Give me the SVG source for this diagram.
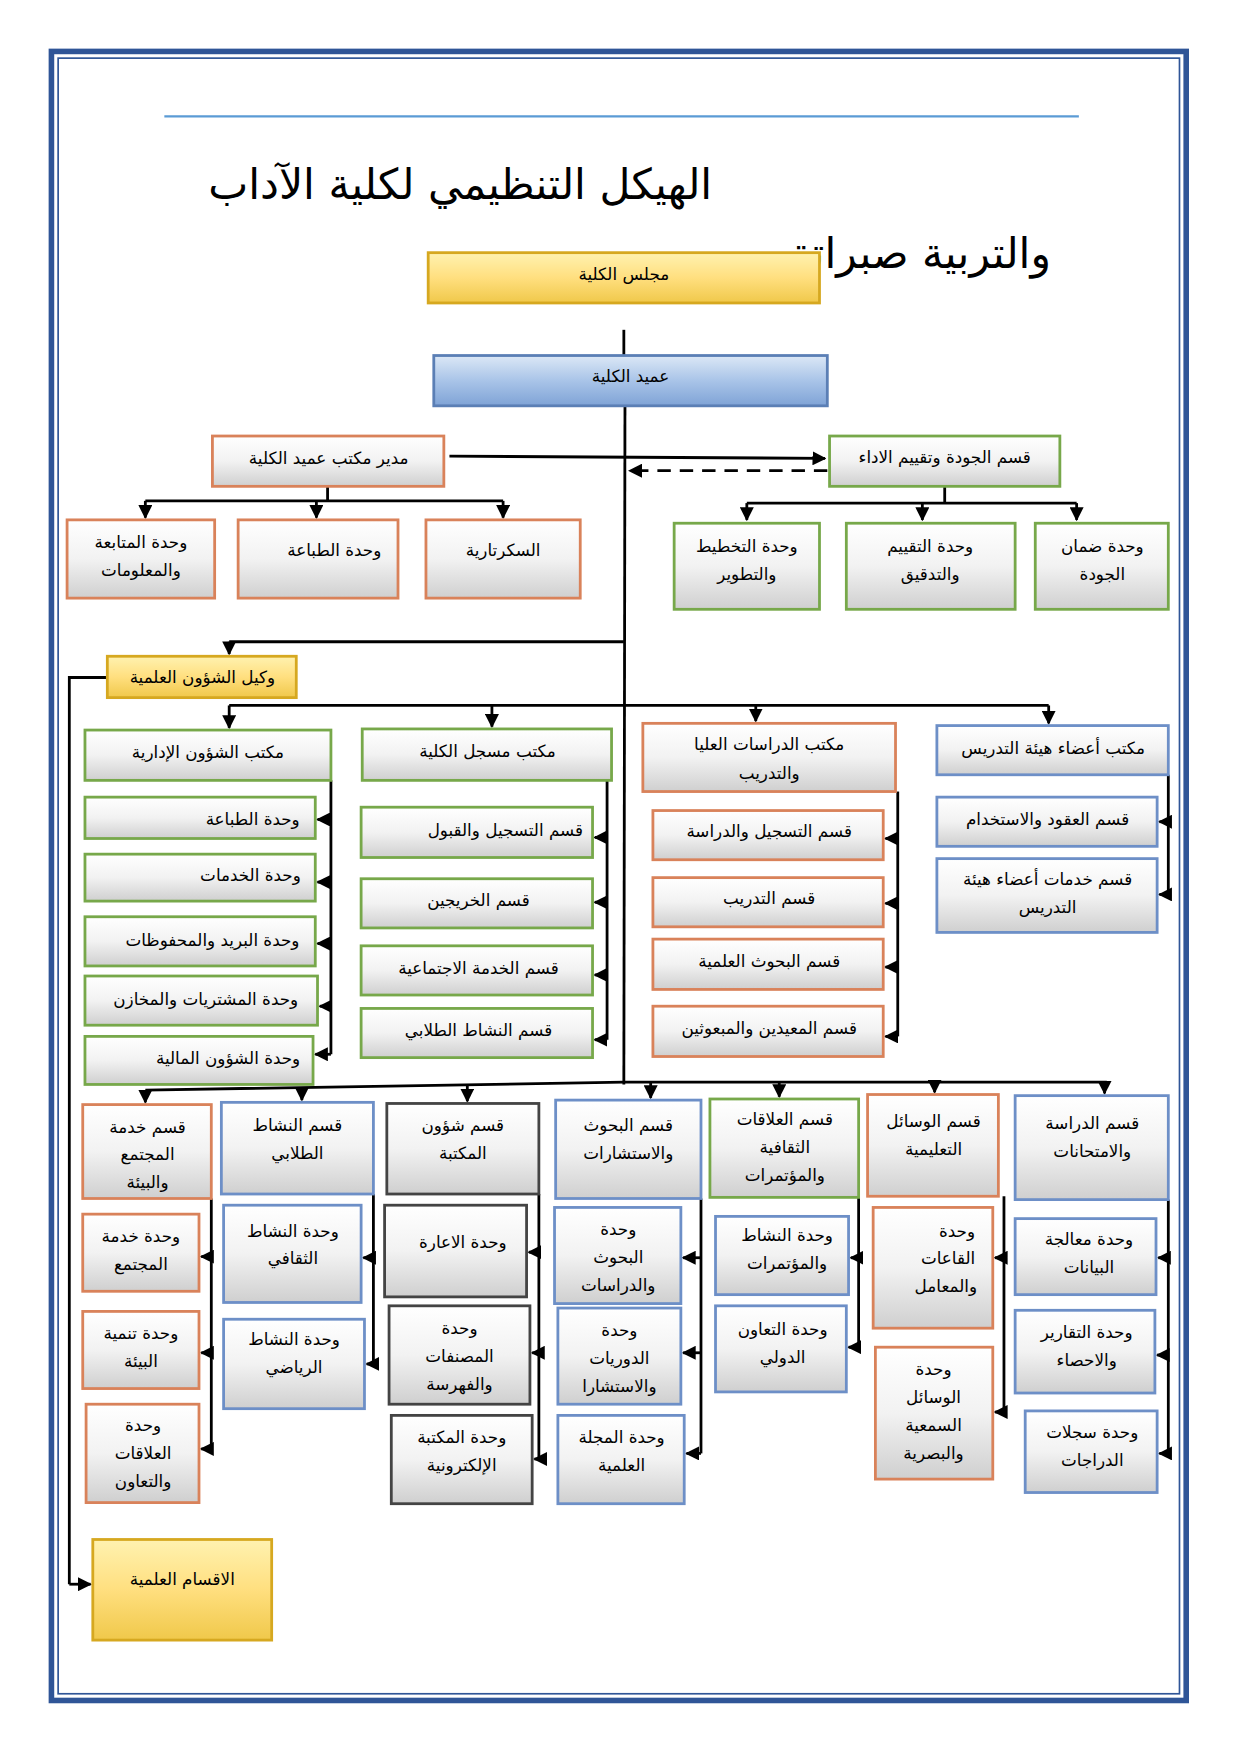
<svg xmlns="http://www.w3.org/2000/svg" width="1241" height="1755" viewBox="0 0 1241 1755">
<defs>
<linearGradient id="gr" x1="0" y1="0" x2="0" y2="1"><stop offset="0" stop-color="#ffffff"/><stop offset="0.5" stop-color="#f2f2f2"/><stop offset="1" stop-color="#cfcfcf"/></linearGradient>
<linearGradient id="yl" x1="0" y1="0" x2="0" y2="1"><stop offset="0" stop-color="#fff2b0"/><stop offset="0.5" stop-color="#ffdf7f"/><stop offset="1" stop-color="#f0c84a"/></linearGradient>
<linearGradient id="bl" x1="0" y1="0" x2="0" y2="1"><stop offset="0" stop-color="#dce8f6"/><stop offset="0.5" stop-color="#a9c4e8"/><stop offset="1" stop-color="#7fa3d6"/></linearGradient>
<marker id="ar" viewBox="0 0 10 10" refX="9" refY="5" markerWidth="5" markerHeight="5" orient="auto"><path d="M0,0L10,5L0,10z" fill="#000"/></marker>
<style>
text{font-family:"DejaVu Sans","Noto Sans",sans-serif;font-size:15px;text-anchor:middle;fill:#000}
.b{fill:url(#gr);stroke-width:2.5}
.o{stroke:#d9825a}.g{stroke:#77a84a}.u{stroke:#6d8fc7}.k{stroke:#444}
.y{fill:url(#yl);stroke:#d6a820;stroke-width:2.5}
.c line,.c path{stroke:#000;stroke-width:2.5;fill:none}
</style>
</defs>
<g transform="scale(1.118)">
<rect x="46" y="46" width="1015" height="1475" fill="none" stroke="#2f5597" stroke-width="5"/>
<rect x="52" y="52" width="1003" height="1463" fill="none" stroke="#2f5597" stroke-width="1.5"/>
<line x1="147" y1="104" x2="965" y2="104" stroke="#5b9bd5" stroke-width="2"/>
<text x="637" y="178" style="font-size:38px;text-anchor:end">الهيكل التنظيمي لكلية الآداب</text>
<text x="940" y="240" style="font-size:38px;text-anchor:end">والتربية صبراتة</text>

<g class="c">
<line x1="558" y1="295" x2="558" y2="318"/>
<line x1="559" y1="363" x2="558" y2="970"/>
<line x1="402" y1="408" x2="738" y2="410" marker-end="url(#ar)"/>
<line x1="740" y1="421" x2="563" y2="421" stroke-dasharray="12,8" marker-end="url(#ar)"/>
<path d="M293,435V448M130,448H450"/>
<line x1="130" y1="448" x2="130" y2="463" marker-end="url(#ar)"/>
<line x1="283" y1="448" x2="283" y2="463" marker-end="url(#ar)"/>
<line x1="450" y1="448" x2="450" y2="463" marker-end="url(#ar)"/>
<path d="M845,435V450M668,450H963"/>
<line x1="668" y1="450" x2="668" y2="465" marker-end="url(#ar)"/>
<line x1="825" y1="450" x2="825" y2="465" marker-end="url(#ar)"/>
<line x1="963" y1="450" x2="963" y2="465" marker-end="url(#ar)"/>
<path d="M205,574H558"/>
<line x1="205" y1="574" x2="205" y2="585" marker-end="url(#ar)"/>
<path d="M96,606H62V1417"/>
<line x1="62" y1="1417" x2="81" y2="1417" marker-end="url(#ar)"/>
<path d="M205,631H938"/>
<line x1="205" y1="631" x2="205" y2="651" marker-end="url(#ar)"/>
<line x1="440" y1="631" x2="440" y2="650" marker-end="url(#ar)"/>
<line x1="676" y1="631" x2="676" y2="645" marker-end="url(#ar)"/>
<line x1="938" y1="631" x2="938" y2="647" marker-end="url(#ar)"/>
<path d="M296,698V943"/>
<line x1="296" y1="733" x2="284" y2="733" marker-end="url(#ar)"/>
<line x1="296" y1="789" x2="284" y2="789" marker-end="url(#ar)"/>
<line x1="296" y1="844" x2="284" y2="844" marker-end="url(#ar)"/>
<line x1="296" y1="900" x2="286" y2="900" marker-end="url(#ar)"/>
<line x1="296" y1="943" x2="282" y2="943" marker-end="url(#ar)"/>
<path d="M543,698V930"/>
<line x1="543" y1="749" x2="532" y2="749" marker-end="url(#ar)"/>
<line x1="543" y1="807" x2="532" y2="807" marker-end="url(#ar)"/>
<line x1="543" y1="872" x2="532" y2="872" marker-end="url(#ar)"/>
<line x1="543" y1="930" x2="532" y2="930" marker-end="url(#ar)"/>
<path d="M803,708V927"/>
<line x1="803" y1="750" x2="792" y2="750" marker-end="url(#ar)"/>
<line x1="803" y1="808" x2="792" y2="808" marker-end="url(#ar)"/>
<line x1="803" y1="865" x2="792" y2="865" marker-end="url(#ar)"/>
<line x1="803" y1="927" x2="792" y2="927" marker-end="url(#ar)"/>
<path d="M1045,693V800"/>
<line x1="1045" y1="735" x2="1037" y2="735" marker-end="url(#ar)"/>
<line x1="1045" y1="800" x2="1037" y2="800" marker-end="url(#ar)"/>
<path d="M130,975L558,968H990"/>
<line x1="130" y1="975" x2="130" y2="986" marker-end="url(#ar)"/>
<line x1="270" y1="973" x2="270" y2="984" marker-end="url(#ar)"/>
<line x1="418" y1="970" x2="418" y2="985" marker-end="url(#ar)"/>
<line x1="582" y1="968" x2="582" y2="982" marker-end="url(#ar)"/>
<line x1="697" y1="968" x2="697" y2="981" marker-end="url(#ar)"/>
<line x1="836" y1="968" x2="836" y2="977" marker-end="url(#ar)"/>
<line x1="988" y1="968" x2="988" y2="978" marker-end="url(#ar)"/>
<path d="M189,1072V1296"/>
<line x1="189" y1="1124" x2="180" y2="1124" marker-end="url(#ar)"/>
<line x1="189" y1="1210" x2="180" y2="1210" marker-end="url(#ar)"/>
<line x1="189" y1="1296" x2="180" y2="1296" marker-end="url(#ar)"/>
<path d="M334,1068V1220"/>
<line x1="334" y1="1125" x2="325" y2="1125" marker-end="url(#ar)"/>
<line x1="334" y1="1220" x2="328" y2="1220" marker-end="url(#ar)"/>
<path d="M482,1068V1305"/>
<line x1="482" y1="1120" x2="473" y2="1120" marker-end="url(#ar)"/>
<line x1="482" y1="1210" x2="476" y2="1210" marker-end="url(#ar)"/>
<line x1="482" y1="1305" x2="478" y2="1305" marker-end="url(#ar)"/>
<path d="M627,1072V1300"/>
<line x1="627" y1="1125" x2="611" y2="1125" marker-end="url(#ar)"/>
<line x1="627" y1="1210" x2="611" y2="1210" marker-end="url(#ar)"/>
<line x1="627" y1="1300" x2="614" y2="1300" marker-end="url(#ar)"/>
<path d="M768,1071V1205"/>
<line x1="768" y1="1125" x2="761" y2="1125" marker-end="url(#ar)"/>
<line x1="768" y1="1205" x2="759" y2="1205" marker-end="url(#ar)"/>
<path d="M898,1070V1263"/>
<line x1="898" y1="1125" x2="890" y2="1125" marker-end="url(#ar)"/>
<line x1="898" y1="1263" x2="890" y2="1263" marker-end="url(#ar)"/>
<path d="M1045,1073V1300"/>
<line x1="1045" y1="1125" x2="1036" y2="1125" marker-end="url(#ar)"/>
<line x1="1045" y1="1212" x2="1035" y2="1212" marker-end="url(#ar)"/>
<line x1="1045" y1="1300" x2="1037" y2="1300" marker-end="url(#ar)"/>
</g>

<g id="n1"><rect x="383" y="226" width="350" height="45" class="y"/><text x="558" y="250">مجلس الكلية</text></g>
<g id="n2"><rect x="388" y="318" width="352" height="45" fill="url(#bl)" stroke="#5b7fb5" stroke-width="2.5"/><text x="564" y="342">عميد الكلية</text></g>
<g id="n3"><rect x="190" y="390" width="207" height="45" class="b o"/><text x="294" y="415">مدير مكتب عميد الكلية</text></g>
<g id="n4"><rect x="742" y="390" width="206" height="45" class="b g"/><text x="845" y="414">قسم الجودة وتقييم الاداء</text></g>
<g id="n5"><rect x="60" y="465" width="132" height="70" class="b o"/><text x="126" y="490">وحدة المتابعة</text><text x="126" y="515">والمعلومات</text></g>
<g id="n6"><rect x="213" y="465" width="143" height="70" class="b o"/><text x="299" y="497">وحدة الطباعة</text></g>
<g id="n7"><rect x="381" y="465" width="138" height="70" class="b o"/><text x="450" y="497">السكرتارية</text></g>
<g id="n8"><rect x="603" y="468" width="130" height="77" class="b g"/><text x="668" y="494">وحدة التخطيط</text><text x="668" y="519">والتطوير</text></g>
<g id="n9"><rect x="757" y="468" width="151" height="77" class="b g"/><text x="832" y="494">وحدة التقييم</text><text x="832" y="519">والتدقيق</text></g>
<g id="n10"><rect x="926" y="468" width="119" height="77" class="b g"/><text x="986" y="494">وحدة ضمان</text><text x="986" y="519">الجودة</text></g>
<g id="n11"><rect x="96" y="587" width="169" height="37" class="y"/><text x="181" y="611">وكيل الشؤون العلمية</text></g>
<g id="n12"><rect x="83" y="1377" width="160" height="90" class="y"/><text x="163" y="1418">الاقسام العلمية</text></g>

<g id="n13"><rect x="76" y="653" width="220" height="45" class="b g"/><text x="186" y="678">مكتب الشؤون الإدارية</text></g>
<g id="n14"><rect x="76" y="713" width="206" height="37" class="b g"/><text x="226" y="738">وحدة الطباعة</text></g>
<g id="n15"><rect x="76" y="764" width="206" height="42" class="b g"/><text x="224" y="788">وحدة الخدمات</text></g>
<g id="n16"><rect x="76" y="820" width="206" height="44" class="b g"/><text x="190" y="846">وحدة البريد والمحفوظات</text></g>
<g id="n17"><rect x="76" y="873" width="208" height="44" class="b g"/><text x="184" y="899">وحدة المشتريات والمخازن</text></g>
<g id="n18"><rect x="76" y="927" width="204" height="43" class="b g"/><text x="204" y="952">وحدة الشؤون المالية</text></g>

<g id="n19"><rect x="324" y="652" width="223" height="46" class="b g"/><text x="436" y="677">مكتب مسجل الكلية</text></g>
<g id="n20"><rect x="323" y="722" width="207" height="45" class="b g"/><text x="452" y="748">قسم التسجيل والقبول</text></g>
<g id="n21"><rect x="323" y="786" width="207" height="44" class="b g"/><text x="428" y="810">قسم الخريجين</text></g>
<g id="n22"><rect x="323" y="846" width="207" height="44" class="b g"/><text x="428" y="871">قسم الخدمة الاجتماعية</text></g>
<g id="n23"><rect x="323" y="902" width="207" height="44" class="b g"/><text x="428" y="927">قسم النشاط الطلابي</text></g>

<g id="n24"><rect x="575" y="647" width="226" height="61" class="b o"/><text x="688" y="671">مكتب الدراسات العليا</text><text x="688" y="697">والتدريب</text></g>
<g id="n25"><rect x="584" y="725" width="206" height="44" class="b o"/><text x="688" y="749">قسم التسجيل والدراسة</text></g>
<g id="n26"><rect x="584" y="785" width="206" height="44" class="b o"/><text x="688" y="809">قسم التدريب</text></g>
<g id="n27"><rect x="584" y="840" width="206" height="45" class="b o"/><text x="688" y="865">قسم البحوث العلمية</text></g>
<g id="n28"><rect x="584" y="900" width="206" height="45" class="b o"/><text x="688" y="925">قسم المعيدين والمبعوثين</text></g>

<g id="n29"><rect x="838" y="649" width="207" height="44" class="b u"/><text x="942" y="674">مكتب أعضاء هيئة التدريس</text></g>
<g id="n30"><rect x="838" y="713" width="197" height="44" class="b u"/><text x="937" y="738">قسم العقود والاستخدام</text></g>
<g id="n31"><rect x="838" y="768" width="197" height="66" class="b u"/><text x="937" y="792">قسم خدمات أعضاء هيئة</text><text x="937" y="817">التدريس</text></g>

<g id="n32"><rect x="74" y="988" width="115" height="84" class="b o"/><text x="132" y="1013">قسم خدمة</text><text x="132" y="1038">المجتمع</text><text x="132" y="1063">والبيئة</text></g>
<g id="n33"><rect x="198" y="986" width="136" height="82" class="b u"/><text x="266" y="1012">قسم النشاط</text><text x="266" y="1037">الطلابي</text></g>
<g id="n34"><rect x="346" y="987" width="136" height="81" class="b k"/><text x="414" y="1012">قسم شؤون</text><text x="414" y="1037">المكتبة</text></g>
<g id="n35"><rect x="497" y="984" width="130" height="88" class="b u"/><text x="562" y="1012">قسم البحوث</text><text x="562" y="1037">والاستشارات</text></g>
<g id="n36"><rect x="635" y="983" width="133" height="88" class="b g"/><text x="702" y="1006">قسم العلاقات</text><text x="702" y="1031">الثقافية</text><text x="702" y="1056">والمؤتمرات</text></g>
<g id="n37"><rect x="776" y="979" width="117" height="91" class="b o"/><text x="835" y="1008">قسم الوسائل</text><text x="835" y="1033">التعليمية</text></g>
<g id="n38"><rect x="908" y="980" width="137" height="93" class="b u"/><text x="977" y="1010">قسم الدراسة</text><text x="977" y="1035">والامتحانات</text></g>

<g id="n39"><rect x="74" y="1086" width="104" height="69" class="b o"/><text x="126" y="1111">وحدة خدمة</text><text x="126" y="1136">المجتمع</text></g>
<g id="n40"><rect x="74" y="1173" width="104" height="69" class="b o"/><text x="126" y="1198">وحدة تنمية</text><text x="126" y="1223">البيئة</text></g>
<g id="n41"><rect x="77" y="1256" width="101" height="88" class="b o"/><text x="128" y="1280">وحدة</text><text x="128" y="1305">العلاقات</text><text x="128" y="1330">والتعاون</text></g>
<g id="n42"><rect x="200" y="1078" width="123" height="87" class="b u"/><text x="262" y="1106">وحدة النشاط</text><text x="262" y="1131">الثقافي</text></g>
<g id="n43"><rect x="200" y="1180" width="126" height="80" class="b u"/><text x="263" y="1203">وحدة النشاط</text><text x="263" y="1228">الرياضي</text></g>
<g id="n44"><rect x="344" y="1078" width="127" height="82" class="b k"/><text x="414" y="1116">وحدة الاعارة</text></g>
<g id="n45"><rect x="348" y="1168" width="126" height="88" class="b k"/><text x="411" y="1193">وحدة</text><text x="411" y="1218">المصنفات</text><text x="411" y="1243">والفهرسة</text></g>
<g id="n46"><rect x="350" y="1266" width="126" height="79" class="b k"/><text x="413" y="1291">وحدة المكتبة</text><text x="413" y="1316">الإلكترونية</text></g>
<g id="n47"><rect x="496" y="1080" width="113" height="86" class="b u"/><text x="553" y="1105">وحدة</text><text x="553" y="1130">البحوث</text><text x="553" y="1155">والدراسات</text></g>
<g id="n48"><rect x="499" y="1170" width="110" height="86" class="b u"/><text x="554" y="1195">وحدة</text><text x="554" y="1220">الدوريات</text><text x="554" y="1245">والاستشارا</text></g>
<g id="n49"><rect x="499" y="1266" width="113" height="79" class="b u"/><text x="556" y="1291">وحدة المجلة</text><text x="556" y="1316">العلمية</text></g>
<g id="n50"><rect x="640" y="1088" width="119" height="70" class="b u"/><text x="704" y="1110">وحدة النشاط</text><text x="704" y="1135">والمؤتمرات</text></g>
<g id="n51"><rect x="640" y="1168" width="117" height="77" class="b u"/><text x="700" y="1194">وحدة التعاون</text><text x="700" y="1219">الدولي</text></g>
<g id="n52"><rect x="781" y="1080" width="107" height="108" class="b o"/><text x="856" y="1106">وحدة</text><text x="848" y="1131">القاعات</text><text x="846" y="1156">والمعامل</text></g>
<g id="n53"><rect x="783" y="1205" width="105" height="118" class="b o"/><text x="835" y="1230">وحدة</text><text x="835" y="1255">الوسائل</text><text x="835" y="1280">السمعية</text><text x="835" y="1305">والبصرية</text></g>
<g id="n54"><rect x="908" y="1090" width="126" height="68" class="b u"/><text x="974" y="1114">وحدة معالجة</text><text x="974" y="1139">البيانات</text></g>
<g id="n55"><rect x="908" y="1172" width="125" height="74" class="b u"/><text x="972" y="1197">وحدة التقارير</text><text x="972" y="1222">والاحصاء</text></g>
<g id="n56"><rect x="917" y="1262" width="118" height="73" class="b u"/><text x="977" y="1286">وحدة سجلات</text><text x="977" y="1311">الدراجات</text></g>
</g>
</svg>
